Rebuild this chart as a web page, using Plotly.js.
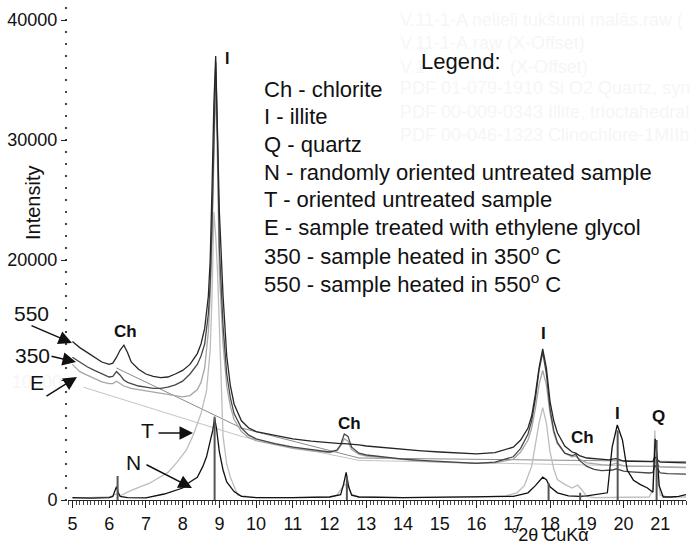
<!DOCTYPE html>
<html>
<head>
<meta charset="utf-8">
<script src="https://cdn.plot.ly/plotly-3.0.1.min.js"></script>
<style>html,body{margin:0;padding:0;background:#fff;}#chart{width:698px;height:547px;}</style>
</head>
<body>
<div id="chart"></div>
<script>
// ---- shared 2theta grid for the offset patterns (550, 350, E) ----
var xUpper = [5.0,5.2,5.4,5.6,5.8,6.0,6.1,6.2,6.3,6.4,6.5,6.6,6.8,7.0,7.2,7.4,7.6,7.8,8.0,8.2,8.4,8.5,8.6,8.7,8.75,8.8,8.85,8.9,8.95,9.0,9.1,9.2,9.3,9.4,9.6,9.8,10.0,10.5,11.0,11.5,12.0,12.2,12.3,12.4,12.5,12.6,12.8,13.0,13.5,14.0,14.5,15.0,15.5,16.0,16.5,17.0,17.2,17.4,17.5,17.6,17.7,17.8,17.9,18.0,18.1,18.2,18.4,18.6,18.7,18.8,19.0,19.2,19.4,19.6,19.7,19.8,19.9,20.0,20.2,20.4,20.6,20.7,20.8,20.85,20.9,21.0,21.2,21.4,21.7];

var y550 = [13200,12700,12300,11900,11500,11300,11400,11900,12500,12900,12300,11500,10900,10500,10300,10200,10250,10500,10800,11300,12200,13000,14300,17000,20000,26000,33000,37000,31000,24000,17000,12000,9500,8000,6600,6000,5700,5400,5100,4900,4750,4720,4700,4700,4680,4650,4600,4500,4350,4200,4100,4000,3900,3850,3950,4400,5000,6000,7000,8800,11000,12600,11000,8200,6600,5600,4500,4000,3900,3700,3500,3450,3350,3350,3400,3450,3350,3250,3230,3200,3180,3170,3200,3600,3400,3150,3120,3100,3100];

var y350 = [11900,11500,11100,10800,10500,10250,10300,10700,10400,10000,9800,9700,9500,9400,9300,9300,9400,9600,9900,10500,11300,12000,13000,15500,18000,23000,30000,36500,30000,21000,14500,10500,8500,7200,6000,5400,5100,4700,4400,4200,4000,4150,4600,5500,5300,4400,3900,3750,3550,3400,3300,3200,3100,3050,3150,3600,4300,5500,6600,8400,10800,12300,10500,7600,5800,4800,3900,3700,3800,3300,2800,2550,2450,2450,2500,2600,2500,2400,2350,2300,2250,2250,2300,2900,2700,2250,2200,2200,2150];

var yE = [11300,10700,10400,10100,9850,9700,9700,9900,9700,9500,9400,9300,9200,9100,9000,8900,8800,8700,8600,8700,9200,9800,11000,14000,17000,22000,29000,35000,28000,19000,13000,9500,7800,6700,5700,5200,4950,4600,4300,4100,3950,4100,4500,5100,4900,4200,3800,3650,3500,3350,3250,3150,3080,3050,3100,3400,4000,5000,6000,7600,9600,10800,9600,7200,5600,4700,3900,3600,3650,3400,3100,3000,2950,2900,2950,3050,2950,2850,2800,2800,2750,2750,2800,3300,3000,2750,2750,2700,2700];

// ---- oriented untreated sample T ----
var xT = [5.0,5.5,6.0,6.2,6.3,6.6,7.1,7.6,7.85,8.1,8.3,8.5,8.65,8.75,8.8,8.85,8.9,8.95,9.05,9.1,9.2,9.3,9.5,10.0,11.0,12.0,12.2,12.3,12.4,12.5,12.6,12.8,14.0,16.0,16.8,17.1,17.3,17.5,17.6,17.7,17.8,17.9,18.0,18.1,18.2,18.4,18.6,18.75,18.85,19.0,19.2,20.0,20.7,20.8,20.85,20.9,21.0,21.2,21.7];
var yT = [150,180,250,500,350,800,1400,2300,3150,4150,5500,7200,9100,12500,17000,24000,22000,19000,10800,5300,3000,1900,400,200,200,250,400,800,1300,1100,500,250,200,250,350,600,1200,2800,4500,6400,7700,6400,4000,2600,1700,1300,1000,1250,900,300,200,200,250,900,5800,2500,400,250,250];

// ---- randomly oriented untreated sample N ----
var xN = [5.0,5.5,6.0,6.1,6.15,6.2,6.25,6.3,6.5,7.0,7.5,7.8,8.0,8.2,8.4,8.55,8.65,8.75,8.82,8.87,8.92,9.0,9.1,9.2,9.4,9.6,10.0,11.0,12.0,12.3,12.38,12.45,12.52,12.6,12.8,14.0,16.0,17.0,17.4,17.6,17.8,17.9,18.0,18.2,18.5,18.8,19.0,19.3,19.56,19.69,19.83,19.97,20.1,20.27,20.45,20.65,20.8,20.86,20.92,20.97,21.08,21.3,21.5,21.7];
var yN = [200,150,200,300,700,1100,600,300,200,170,500,800,1000,1500,1900,2800,3600,4900,5800,6800,6000,4000,2500,1500,700,300,200,200,250,450,1300,2300,1100,400,250,200,250,300,600,1200,1900,1700,1100,600,350,300,350,500,600,4400,6250,5000,2500,1650,1300,1000,650,5100,3500,1200,250,250,300,450];

// ---- reference patterns (PDF sticks) ----
var stickX = [6.23,8.87,12.47,17.96,18.82,19.84,20.9];
var stickY = [2000,6950,1900,1400,600,5800,5000];

// ---- fitted background lines ----
var bg1X = [6.2,9.6,12.8,21.7];
var bg1Y = [11000,6000,3500,3200];
var bg2X = [5.3,9.6,12.8,21.7];
var bg2Y = [9400,5300,3300,2750];

var xTicks = [5,6,7,8,9,10,11,12,13,14,15,16,17,18,19,20,21];
var yTicks = [0,10000,20000,30000,40000];
var yTickText = ['0','','20000','30000','40000'];

var legendLines = ['Ch - chlorite','I - illite','Q - quartz','N - randomly oriented untreated sample','T - oriented untreated sample','E - sample treated with ethylene glycol','350 - sample heated in 350<sup>o</sup> C','550 - sample heated in 550<sup>o</sup> C'];
var ghostLines = ['V.11-1-A nelieli tukšumi malās.raw (','V.11-1-A.raw (X-Offset)','','PDF 01-079-1910 Si O2 Quartz, syn','PDF 00-009-0343 Illite, trioctahedral','PDF 00-046-1323 Clinochlore-1MIIb'];

// stick traces built from the stick arrays
var sx = [], sy = [];
for (var i = 0; i < stickX.length; i++) { sx.push(stickX[i], stickX[i], null); sy.push(0, stickY[i], null); }

var traces = [
  {x: bg2X, y: bg2Y, mode: 'lines', line: {color: '#c4c4c4', width: 1}},
  {x: bg1X, y: bg1Y, mode: 'lines', line: {color: '#8a8a8a', width: 1}},
  {x: xT, y: yT, mode: 'lines', line: {color: '#bdbdbd', width: 1.3}},
  {x: xUpper, y: yE, mode: 'lines', line: {color: '#a6a6a6', width: 1.3}},
  {x: xUpper, y: y350, mode: 'lines', line: {color: '#474747', width: 1.3}},
  {x: xUpper, y: y550, mode: 'lines', line: {color: '#262626', width: 1.3}},
  {x: xN, y: yN, mode: 'lines', line: {color: '#111111', width: 1.3}},
  {x: sx, y: sy, mode: 'lines', line: {color: '#555555', width: 2}}
];

var L = 68, T0 = 8, PW = 618, PH = 492;
function px(x) { return (x - L) / PW; }
function py(y) { return (T0 + PH - y) / PH; }
var FF = '"Liberation Sans", Arial, sans-serif';
var GHOST = '#f6f6f6';

var ann = [];
function txt(t, x, y, size, opts) {
  var a = {text: t, xref: 'paper', yref: 'paper', x: px(x), y: py(y), showarrow: false,
    font: {family: FF, size: size, color: '#111'}, xanchor: 'center', yanchor: 'middle'};
  for (var k in (opts || {})) a[k] = opts[k];
  ann.push(a);
}
// faint ghost text left over from the original software
for (var g = 0; g < ghostLines.length; g++) {
  if (ghostLines[g]) txt(ghostLines[g], 398, [20,43,67,88,112,135][g], 18, {xanchor: 'left', font: {family: FF, size: 18, color: GHOST}});
}
txt('V.1', 398, 67, 18, {xanchor: 'left', font: {family: FF, size: 18, color: GHOST}});
txt('(X-Offset)', 508, 67, 18, {xanchor: 'left', font: {family: FF, size: 18, color: GHOST}});
txt('10000', 10, 382, 18, {xanchor: 'left', font: {family: FF, size: 18, color: GHOST}});

txt('Legend:', 461, 62, 22);
for (var j = 0; j < legendLines.length; j++) {
  txt(legendLines[j], 262, 89 + j * 27.7, 22, {xanchor: 'left'});
}
txt('Intensity', 33, 203, 20, {textangle: -90});
txt('°2θ CuKα', 550, 535, 18);

var bold = function (s) { return '<b>' + s + '</b>'; };
txt(bold('I'), 227, 58, 16);
txt(bold('Ch'), 125, 331, 17);
txt(bold('Ch'), 349, 423, 17);
txt(bold('I'), 543, 333, 17);
txt(bold('Ch'), 582, 437, 17);
txt(bold('I'), 617, 413, 17);
txt(bold('Q'), 658, 416, 17);

txt('550', 31, 313, 21);
txt('350', 32, 355, 21);
txt('E', 37, 382, 21);
txt('T', 147, 430, 21);
txt('N', 133, 462, 21);

function arrow(x0, y0, x1, y1) {
  ann.push({text: '', xref: 'paper', yref: 'paper', x: px(x1), y: py(y1), ax: x0 - x1, ay: y0 - y1,
    showarrow: true, arrowhead: 2, arrowsize: 1.8, arrowwidth: 1.5, arrowcolor: '#111'});
}
arrow(30, 325, 72, 343);
arrow(50, 356, 76, 362);
arrow(45, 397, 77, 377);
arrow(157, 433, 193, 433);
arrow(145, 464, 192, 488);

var layout = {
  width: 698, height: 547,
  margin: {l: L, r: 12, t: T0, b: 47},
  paper_bgcolor: '#fff', plot_bgcolor: '#fff',
  showlegend: false,
  xaxis: {range: [4.88, 21.7], tickmode: 'array', tickvals: xTicks, ticks: 'outside', ticklen: 7, tickwidth: 1, tickcolor: '#222',
    showline: true, linecolor: '#222', linewidth: 1, showgrid: false, zeroline: false,
    tickfont: {family: FF, size: 18, color: '#111'},
    minor: {dtick: 0.1, tick0: 5, ticks: 'outside', ticklen: 4, tickcolor: '#444', tickwidth: 1}},
  yaxis: {range: [0, 41000], tickmode: 'array', tickvals: yTicks, ticktext: yTickText, ticks: 'outside', ticklen: 6, tickwidth: 1, tickcolor: '#222',
    showline: false, showgrid: false, zeroline: false,
    tickfont: {family: FF, size: 18, color: '#111'},
    minor: {dtick: 1000, tick0: 0, ticks: 'outside', ticklen: 2, tickcolor: '#444', tickwidth: 1.5}},
  annotations: ann
};

Plotly.newPlot('chart', traces, layout, {displayModeBar: false, staticPlot: true});
</script>
</body>
</html>
